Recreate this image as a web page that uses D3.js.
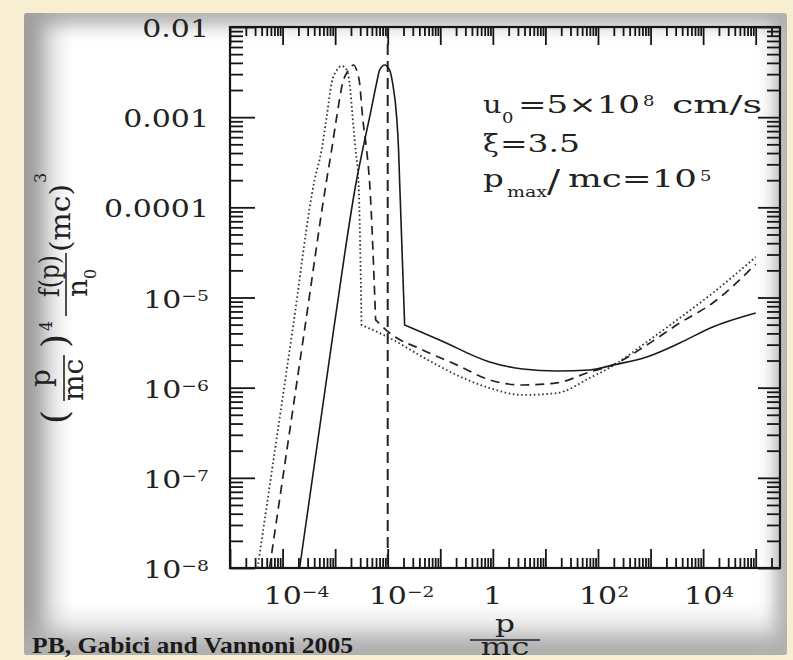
<!DOCTYPE html>
<html><head><meta charset="utf-8">
<script src="https://cdn.jsdelivr.net/npm/d3@7"></script>
<style>html,body{margin:0;padding:0;background:#f8efd3;}svg{display:block}</style>
</head><body>
<script>
// ---------- data ----------
const solidP = [2.11e-4, 9.35e-4, 2.56e-3, 3.33e-3, 4.53e-3, 6.15e-3, 7.01e-3, 8.73e-3, 1.087e-2, 1.24e-2, 1.48e-2, 1.61e-2, 1.69e-2, 2.10e-2, 9.7e-2, 0.87, 3.7, 16.4, 69.5, 190, 845, 3590, 15200, 1e5];
const solidF = [1e-8, 4.37e-6, 2.01e-4, 4.33e-4, 1.00e-3, 2.39e-3, 3.33e-3, 3.79e-3, 3.33e-3, 2.39e-3, 1.00e-3, 4.33e-4, 1.86e-4, 4.95e-6, 3.38e-6, 1.93e-6, 1.61e-6, 1.53e-6, 1.57e-6, 1.78e-6, 2.19e-6, 3.13e-6, 4.71e-6, 6.73e-6];
const solidKink = 13;

const dashedP = [5.65e-5, 2.62e-4, 6.89e-4, 8.57e-4, 1.07e-3, 1.39e-3, 1.80e-3, 2.24e-3, 2.56e-3, 2.92e-3, 3.33e-3, 3.97e-3, 4.53e-3, 5.89e-3, 1.087e-2, 4.61e-2, 0.205, 0.869, 3.69, 16.4, 69.5, 190, 845, 3590, 15200, 1e5];
const dashedF = [1e-8, 4.37e-6, 2.01e-4, 4.33e-4, 1.00e-3, 2.39e-3, 3.33e-3, 3.79e-3, 3.33e-3, 2.39e-3, 1.00e-3, 4.33e-4, 1.86e-4, 5.64e-6, 4.04e-6, 2.62e-6, 1.79e-6, 1.22e-6, 1.07e-6, 1.13e-6, 1.49e-6, 1.78e-6, 2.97e-6, 5.21e-6, 8.69e-6, 2.34e-5];
const dashedKink = 13;

const dottedP = [3.35e-5, 1.55e-4, 4.06e-4, 5.53e-4, 6.89e-4, 8.57e-4, 1.08e-3, 1.33e-3, 1.66e-3, 1.88e-3, 2.15e-3, 2.45e-3, 2.79e-3, 3.18e-3, 1.087e-2, 4.61e-2, 0.205, 0.869, 3.69, 16.4, 69.5, 190, 845, 3590, 15200, 1e5];
const dottedF = [1e-8, 4.37e-6, 2.01e-4, 4.33e-4, 1.00e-3, 2.39e-3, 3.33e-3, 3.70e-3, 3.33e-3, 2.39e-3, 1.00e-3, 4.33e-4, 1.86e-4, 4.95e-6, 3.56e-6, 2.19e-6, 1.38e-6, 9.9e-7, 8.3e-7, 8.7e-7, 1.28e-6, 1.74e-6, 3.21e-6, 5.93e-6, 1.12e-5, 2.81e-5];
const dottedKink = 13;

const markerP = 1e-2;

const xDomain = [1e-5, 2.9e5];
const yDomain = [1e-8, 1e-2];
const xTickValues = [1e-4, 1e-2, 1, 1e2, 1e4];
const xTickBase = ["10", "10", "1", "10", "10"];
const xTickExp = ["−4", "−2", "", "2", "4"];
const yTickValues = [1e-2, 1e-3, 1e-4, 1e-5, 1e-6, 1e-7, 1e-8];
const yTickBase = ["0.01", "0.001", "0.0001", "10", "10", "10", "10"];
const yTickExp = ["", "", "", "−5", "−6", "−7", "−8"];
const credit = "PB, Gabici and Vannoni 2005";

// ---------- drawing ----------
const W = 793, H = 660;
const L = 230, R = 780, T = 27, B = 568;
const x = d3.scaleLog().domain(xDomain).range([L, R]);
const y = d3.scaleLog().domain(yDomain).range([B, T]);
const FONT = "'DejaVu Serif', serif";
const INK = "#222";

const svg = d3.select("body").append("svg").attr("width", W).attr("height", H);
const defs = svg.append("defs");
defs.append("filter").attr("id", "blurA").attr("x", "-50%").attr("y", "-50%").attr("width", "200%").attr("height", "200%")
  .append("feGaussianBlur").attr("stdDeviation", 9);
defs.append("filter").attr("id", "blurB").attr("x", "-50%").attr("y", "-50%").attr("width", "200%").attr("height", "200%")
  .append("feGaussianBlur").attr("stdDeviation", 16);
defs.append("clipPath").attr("id", "paperClip").append("rect")
  .attr("x", 24).attr("y", 13).attr("width", 763).attr("height", 642).attr("rx", 3);

svg.append("rect").attr("width", W).attr("height", H).attr("fill", "#f8efd3");
const paper = svg.append("g").attr("clip-path", "url(#paperClip)");
paper.append("rect").attr("x", 24).attr("y", 13).attr("width", 763).attr("height", 642).attr("fill", "#fff");
paper.append("rect").attr("x", 24).attr("y", 13).attr("width", 763).attr("height", 642)
  .attr("fill", "none").attr("stroke", "#a5a5a5").attr("stroke-width", 22).attr("filter", "url(#blurA)");
paper.append("rect").attr("x", -10).attr("y", 0).attr("width", 54).attr("height", H)
  .attr("fill", "#9a9a9a").attr("filter", "url(#blurB)");
paper.append("rect").attr("x", 0).attr("y", 632).attr("width", W).attr("height", 60)
  .attr("fill", "#b0b0b0").attr("filter", "url(#blurB)");

// minor / major tick values
function minors(lo, hi) {
  const out = [];
  for (let e = Math.floor(Math.log10(lo)); e <= Math.ceil(Math.log10(hi)); e++)
    for (let m = 2; m <= 9; m++) { const v = m * Math.pow(10, e); if (v >= lo && v <= hi) out.push(v); }
  return out;
}
function majors(lo, hi) {
  const out = [];
  for (let e = Math.ceil(Math.log10(lo) - 1e-9); e <= Math.floor(Math.log10(hi) + 1e-9); e++) out.push(Math.pow(10, e));
  return out;
}
const xMaj = majors(...xDomain), xMin = minors(...xDomain);
const yMaj = majors(...yDomain), yMin = minors(...yDomain);

function axisG(gen, tx, ty, vals, size) {
  const g = svg.append("g").attr("transform", `translate(${tx},${ty})`)
    .call(gen.tickValues(vals).tickSize(size).tickSizeOuter(0).tickFormat(""));
  g.select(".domain").remove();
  g.selectAll("line").attr("stroke", "#151515").attr("stroke-width", 1.8);
}
axisG(d3.axisBottom(x), 0, B, xMaj, -19);
axisG(d3.axisBottom(x), 0, B, xMin, -10);
axisG(d3.axisTop(x), 0, T, xMaj, -18);
axisG(d3.axisTop(x), 0, T, xMin, -9);
axisG(d3.axisLeft(y), L, 0, yMaj, -25);
axisG(d3.axisLeft(y), L, 0, yMin, -13);
axisG(d3.axisRight(y), R, 0, yMaj, -22);
axisG(d3.axisRight(y), R, 0, yMin, -13);

svg.append("rect").attr("x", L).attr("y", T).attr("width", R - L).attr("height", B - T)
  .attr("fill", "none").attr("stroke", "#151515").attr("stroke-width", 2.2);

// curves
const lineGen = d3.line().x(d => x(d[0])).y(d => y(d[1])).curve(d3.curveMonotoneX);
function curvePath(P, F, k) {
  const pts = P.map((p, i) => [p, F[i]]);
  const a = lineGen(pts.slice(0, k + 1));
  const b = lineGen(pts.slice(k));
  return a + b.replace(/^M/, "L");
}
const plot = svg.append("g");
plot.append("line").attr("x1", x(markerP)).attr("x2", x(markerP)).attr("y1", T).attr("y2", B)
  .attr("stroke", "#222").attr("stroke-width", 2).attr("stroke-dasharray", "11,6");
plot.append("path").attr("d", curvePath(dottedP, dottedF, dottedKink)).attr("fill", "none")
  .attr("stroke", "#333").attr("stroke-width", 1.8).attr("stroke-dasharray", "1.6,2.6");
plot.append("path").attr("d", curvePath(dashedP, dashedF, dashedKink)).attr("fill", "none")
  .attr("stroke", "#222").attr("stroke-width", 1.7).attr("stroke-dasharray", "9,6");
plot.append("path").attr("d", curvePath(solidP, solidF, solidKink)).attr("fill", "none")
  .attr("stroke", "#1a1a1a").attr("stroke-width", 1.6);

// text helpers
function htext(str, tx, ty, size, opts = {}) {
  const t = svg.append("text").attr("font-family", opts.family || FONT).attr("font-size", size)
    .attr("fill", opts.fill || INK).attr("font-weight", opts.weight || "normal")
    .attr("text-anchor", opts.anchor || "start");
  if (opts.len) {
    t.attr("x", tx).attr("y", ty).attr("textLength", opts.len).attr("lengthAdjust", "spacingAndGlyphs");
  } else {
    t.attr("transform", `translate(${tx},${ty}) scale(${opts.sx || 1.25},1)`);
  }
  t.text(str);
  return t;
}

// y tick labels
yTickValues.forEach((v, i) => {
  const t = svg.append("text").attr("font-family", FONT).attr("font-size", 24).attr("fill", INK)
    .attr("text-anchor", "end").attr("transform", `translate(209,${y(v) + 10}) scale(1.25,1)`);
  t.append("tspan").text(yTickBase[i]);
  if (yTickExp[i]) t.append("tspan").attr("font-size", 15).attr("dy", -7).text(yTickExp[i]);
});
// x tick labels
xTickValues.forEach((v, i) => {
  const t = svg.append("text").attr("font-family", FONT).attr("font-size", 24).attr("fill", INK);
  if (xTickExp[i]) {
    t.attr("text-anchor", "start").attr("transform", `translate(${x(v) - 19},604) scale(1.25,1)`);
    t.append("tspan").text(xTickBase[i]);
    t.append("tspan").attr("font-size", 15).attr("dy", -7).text(xTickExp[i]);
  } else {
    t.attr("text-anchor", "middle").attr("transform", `translate(${x(v)},604) scale(1.25,1)`).text(xTickBase[i]);
  }
});

// x title
htext("p", 505, 632, 24, {anchor: "middle", sx: 1.3});
svg.append("line").attr("x1", 470).attr("x2", 540).attr("y1", 640).attr("y2", 640).attr("stroke", INK).attr("stroke-width", 1.6);
htext("mc", 505, 655, 24, {anchor: "middle", sx: 1.35});

// y title (rotated)
const yt = svg.append("g").attr("transform", "rotate(-90)");
function rtext(str, imgY, imgX, size, opts = {}) {
  const t = yt.append("text").attr("x", -imgY).attr("y", imgX).attr("font-family", FONT).attr("font-size", size)
    .attr("fill", INK).attr("text-anchor", opts.anchor || "start");
  if (opts.len) t.attr("textLength", opts.len).attr("lengthAdjust", "spacingAndGlyphs");
  t.text(str);
}
function rbar(y1, y2, imgX) {
  yt.append("line").attr("x1", -y1).attr("x2", -y2).attr("y1", imgX).attr("y2", imgX).attr("stroke", INK).attr("stroke-width", 1.6);
}
rtext("(", 424, 67, 36);
rtext("p", 378, 50, 28, {anchor: "middle"});
rbar(401, 355, 64);
rtext("mc", 380, 83, 28, {anchor: "middle"});
rtext(")", 348, 67, 36);
rtext("4", 331, 52, 16);
rtext("f(p)", 276, 59, 28, {anchor: "middle", len: 42});
rbar(316, 253, 66);
rtext("n", 297, 87, 28);
rtext("0", 279, 96, 16);
rtext("(mc)", 252, 70, 28, {len: 68});
rtext("3", 183, 46, 16);

// annotation
htext("u", 483, 113, 24, {sx: 1.2});
htext("0", 502, 123, 15, {sx: 1.2});
htext("=5×10", 518, 113, 24, {len: 122});
htext("8", 643, 106, 15, {sx: 1.2});
htext("cm/s", 672, 113, 24, {len: 90});
htext("ξ", 483, 152, 24, {sx: 1.2});
htext("=3.5", 500, 152, 24, {len: 80});
htext("p", 483, 187, 24, {sx: 1.35});
htext("max", 507, 197, 15, {len: 40});
htext("/", 547, 192, 31, {sx: 1.25});
htext("mc=10", 568, 187, 24, {len: 129});
htext("5", 700, 181, 15, {sx: 1.2});

// credit
svg.append("text").attr("x", 32).attr("y", 653).attr("font-family", "'Liberation Serif', 'Times New Roman', serif")
  .attr("font-weight", "bold").attr("font-size", 23).attr("fill", "#1a1a1a")
  .attr("textLength", 321).attr("lengthAdjust", "spacingAndGlyphs").text(credit);
</script>
</body></html>
